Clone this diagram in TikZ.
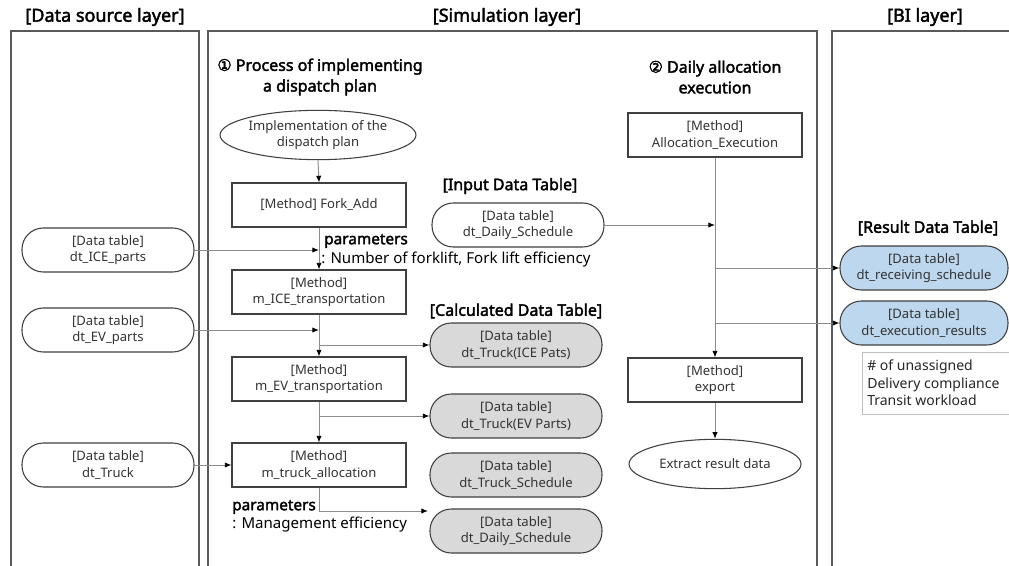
\documentclass[tikz,border=0pt]{standalone}
\usepackage{fontspec}
\setmainfont{Noto Sans}[AutoFakeBold=2.2]
\newfontfamily\symfont{DejaVu Sans}[AutoFakeBold=2.2]
\usetikzlibrary{arrows.meta,shapes.geometric}
\definecolor{laycol}{HTML}{595959}
\definecolor{boxcol}{HTML}{404040}
\definecolor{linecol}{HTML}{8C8C8C}
\definecolor{calcfill}{HTML}{D9D9D9}
\definecolor{resfill}{HTML}{BDD7EE}
\definecolor{notecol}{HTML}{BFBFBF}
\tikzset{
  layerbox/.style={draw=laycol, line width=1.1pt},
  layertitle/.style={font=\fontsize{13.5}{15}\selectfont\bfseries, text=black},
  hdr/.style={font=\fontsize{12}{15.5}\selectfont\bfseries, align=center},
  tblhdr/.style={font=\fontsize{12}{13}\selectfont\bfseries},
  boxtxt/.style={font=\fontsize{9.8}{12.5}\selectfont, text=black!80, align=center},
  method/.style={boxtxt, draw=boxcol, line width=0.8pt, rectangle, minimum width=130.5pt, minimum height=33pt, inner sep=1pt},
  startend/.style={boxtxt, draw=boxcol, line width=0.8pt, ellipse, minimum width=129pt, minimum height=37pt, inner sep=0pt},
  dtable/.style={boxtxt, draw=boxcol, line width=0.8pt, rectangle, rounded corners=16pt, minimum width=129pt, minimum height=33pt, inner sep=1pt},
  calctable/.style={dtable, fill=calcfill},
  restable/.style={dtable, fill=resfill, minimum width=126pt},
  paramb/.style={font=\fontsize{11.5}{12}\selectfont\bfseries, anchor=west, inner sep=0pt},
  paramt/.style={font=\fontsize{11.3}{12}\selectfont, anchor=west, inner sep=0pt},
  conn/.style={draw=linecol, line width=0.7pt},
  arr/.style={conn, -{Latex[length=5pt,width=4pt,color=black]}},
}
\begin{document}
\begin{tikzpicture}[x=0.75pt,y=-0.75pt]
\useasboundingbox (0,0) rectangle (1009,566);
\clip (0,0) rectangle (1009,566);
\fill[white] (0,0) rectangle (1009,566);

% layer boxes
\draw[layerbox] (11,31) rectangle (199,585);
\draw[layerbox] (208,31) rectangle (817,585);
\draw[layerbox] (832,31) rectangle (1030,585);
\node[layertitle] (t1) at (105,17) {[Data source layer]};
\node[layertitle] (t2) at (507,17) {[Simulation layer]};
\node[layertitle] (t3) at (925,17) {[BI layer]};

% headers
\node[hdr] (h1) at (320,77) {{\symfont ①} Process of implementing\\a dispatch plan};
\node[hdr] (h2) at (715,77) {{\symfont ②} Daily allocation\\execution};

% process 1
\node[startend] (start) at (318,135) {Implementation of the\\dispatch plan};
\node[method] (fork) at (319,205) {[Method] Fork\_Add};
\node[method] (ice) at (319,292) {[Method]\\m\_ICE\_transportation};
\node[method] (ev) at (319,379) {[Method]\\m\_EV\_transportation};
\node[method] (talloc) at (319,465) {[Method]\\m\_truck\_allocation};

% data sources
\node[dtable] (dsice) at (108,250) {[Data table]\\dt\_ICE\_parts};
\node[dtable] (dsev) at (108,330) {[Data table]\\dt\_EV\_parts};
\node[dtable] (dstruck) at (108,465) {[Data table]\\dt\_Truck};

% input table
\node[tblhdr] (inhdr) at (510,186) {[Input Data Table]};
\node[dtable] (dailyin) at (518,225) {[Data table]\\dt\_Daily\_Schedule};

% calculated tables
\node[tblhdr] (calchdr) at (516,311) {[Calculated Data Table]};
\node[calctable] (calc1) at (516,345) {[Data table]\\dt\_Truck(ICE Pats)};
\node[calctable] (calc2) at (516,416) {[Data table]\\dt\_Truck(EV Parts)};
\node[calctable] (calc3) at (516,475) {[Data table]\\dt\_Truck\_Schedule};
\node[calctable] (calc4) at (516,531) {[Data table]\\dt\_Daily\_Schedule};

% process 2
\node[method] (alloc) at (715,135) {[Method]\\Allocation\_Execution};
\node[method] (export) at (715,380) {[Method]\\export};
\node[startend] (extract) at (715,464) {Extract result data};

% results
\node[tblhdr] (reshdr) at (928,228) {[Result Data Table]};
\node[restable] (res1) at (924,268) {[Data table]\\dt\_receiving\_schedule};
\node[restable] (res2) at (924,323) {[Data table]\\dt\_execution\_results};
\node[draw=notecol, line width=0.6pt, rectangle, minimum width=120pt, minimum height=46.5pt, anchor=north west, inner sep=0pt] (notebox) at (862,352) {};
\node[font=\fontsize{10.5}{13}\selectfont, align=left, anchor=west, inner sep=0pt, text=black!85] (notetxt) at (867,383) {\# of unassigned\\Delivery compliance\\Transit workload};

% parameters
\node[paramb] (p1b) at (324,241) {parameters};
\node[paramt] (p1t) at (321,260) {: Number of forklift, Fork lift efficiency};
\node[paramb] (p2b) at (232,507) {parameters};
\node[paramt] (p2t) at (232,525) {: Management efficiency};

% connectors process 1
\draw[arr] (start.south) -- (fork.north);
\draw[arr] (fork.south) -- (ice.north);
\draw[arr] (dsice.east) -- (fork.south |- dsice.east);
\draw[arr] (ice.south) -- (ev.north);
\draw[arr] (dsev.east) -- (ice.south |- dsev.east);
\draw[arr] (ice.south |- calc1.west) -- (calc1.west);
\draw[arr] (ev.south) -- (talloc.north);
\draw[arr] (ev.south |- calc2.west) -- (calc2.west);
\draw[arr] (dstruck.east) -- (talloc.west);
\coordinate (c4in) at (428,511);
\draw[arr] (talloc.south) |- (c4in);

% connectors process 2
\draw[arr] (alloc.south) -- (export.north);
\draw[arr] (dailyin.east) -- (alloc.south |- dailyin.east);
\draw[arr] (alloc.south |- res1.west) -- (res1.west);
\draw[arr] (alloc.south |- res2.west) -- (res2.west);
\draw[arr] (export.south) -- (extract.north);
\end{tikzpicture}
\end{document}
